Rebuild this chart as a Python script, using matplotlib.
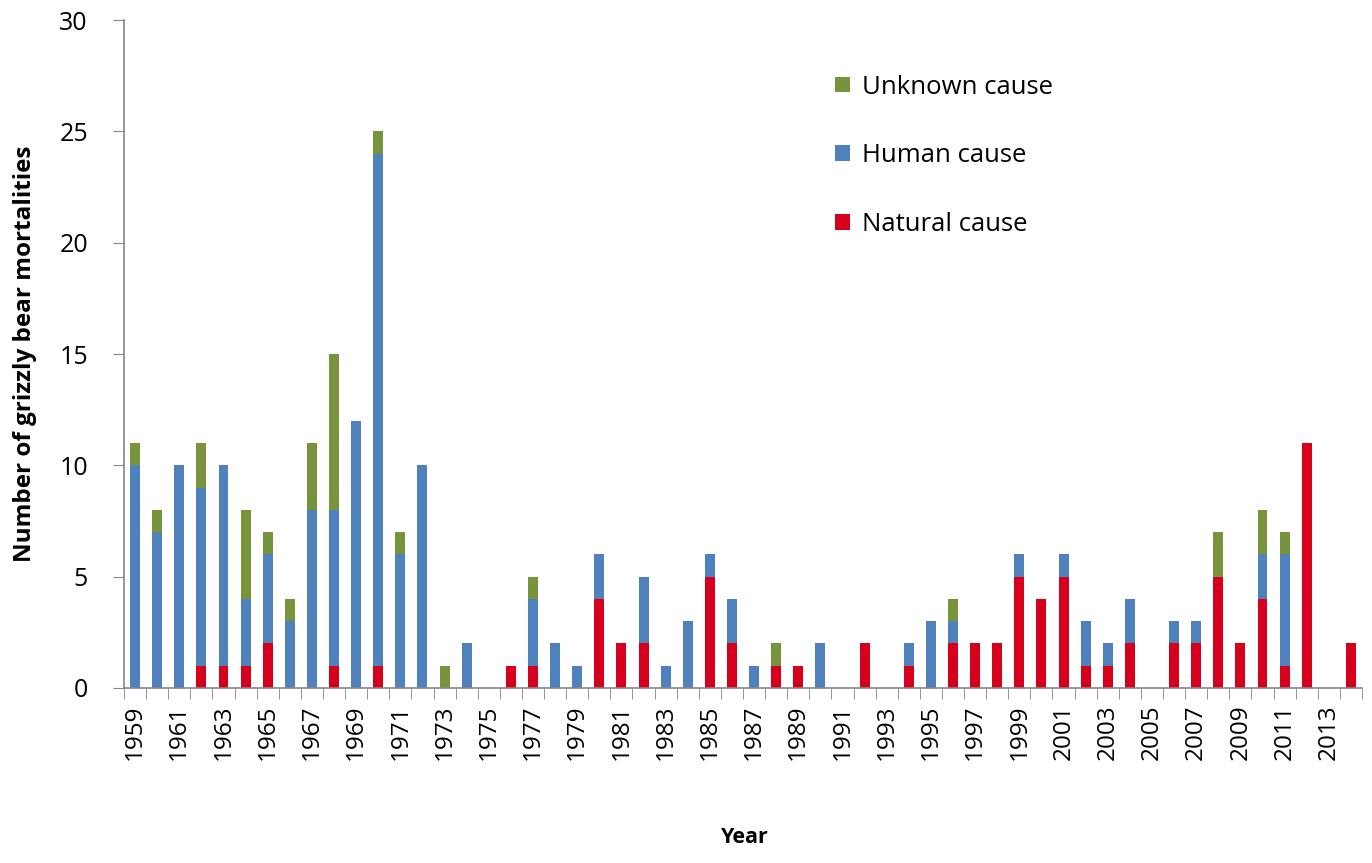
import matplotlib
matplotlib.use("Agg")
import matplotlib.pyplot as plt
import numpy as np

years = list(range(1959, 2015))
natural = [0,0,0,1,1,1,2,0,0,1,0,1,0,0,0,0,0,1,1,0,0,4,2,2,0,0,5,2,0,1,1,0,0,2,0,1,0,2,2,2,5,4,5,1,1,2,0,2,2,5,2,4,1,11,0,2]
human   = [10,7,10,8,9,3,4,3,8,7,12,23,6,10,0,2,0,0,3,2,1,2,0,3,1,3,1,2,1,0,0,2,0,0,0,1,3,1,0,0,1,0,1,2,1,2,0,1,1,0,0,2,5,0,0,0]
unknown = [1,1,0,2,0,4,1,1,3,7,0,1,1,0,1,0,0,0,1,0,0,0,0,0,0,0,0,0,0,1,0,0,0,0,0,0,0,1,0,0,0,0,0,0,0,0,0,0,0,2,0,2,1,0,0,0]
tick_labels = [str(y) for y in years[::2]]

c_nat = "#D6001C"
c_hum = "#4F81BD"
c_unk = "#77933C"
axis_col = "#868686"
font = ["Open Sans", "DejaVu Sans"]
plt.rcParams['font.family'] = font

fig = plt.figure(figsize=(13.72, 8.63), dpi=100)
ax = fig.add_axes([0.0904, 0.2028, 0.9023, 0.774])

x = np.arange(len(years))
nat = np.array(natural); hum = np.array(human); unk = np.array(unknown)
w = 0.45
ax.bar(x, nat, w, color=c_nat, label="Natural cause")
ax.bar(x, hum, w, bottom=nat, color=c_hum, label="Human cause")
ax.bar(x, unk, w, bottom=nat + hum, color=c_unk, label="Unknown cause")

ax.set_xlim(-0.5, len(years) - 0.5)
ax.set_ylim(0, 30)
ax.set_yticks(range(0, 31, 5))
ax.set_xticks(x[::2])
ax.set_xticklabels(tick_labels, rotation=90, fontsize=17.5)
ax.set_xticks(np.arange(-0.5, len(years)), minor=True)
ax.tick_params(axis='x', which='major', length=0, pad=12)
ax.tick_params(axis='x', which='minor', length=8, color=axis_col, direction='out')
ax.tick_params(axis='y', length=8, color=axis_col, direction='out', labelsize=18, pad=18)

for s in ['top', 'right']:
    ax.spines[s].set_visible(False)
for s in ['left', 'bottom']:
    ax.spines[s].set_color(axis_col)
    ax.spines[s].set_linewidth(1.2)

ax.set_ylabel("Number of grizzly bear mortalities", fontsize=17.5, fontweight='bold', labelpad=16)
fig.text(0.543, 0.029, "Year", fontsize=15.5, fontweight='bold', ha='center', va='center')

handles, labels = ax.get_legend_handles_labels()
leg = ax.legend(handles[::-1], labels[::-1], loc='upper left', bbox_to_anchor=(0.556, 0.953),
                frameon=False, fontsize=18.5, handlelength=0.55, handleheight=0.55,
                handletextpad=0.5, labelspacing=1.7)

fig.savefig("out.png", dpi=100)
